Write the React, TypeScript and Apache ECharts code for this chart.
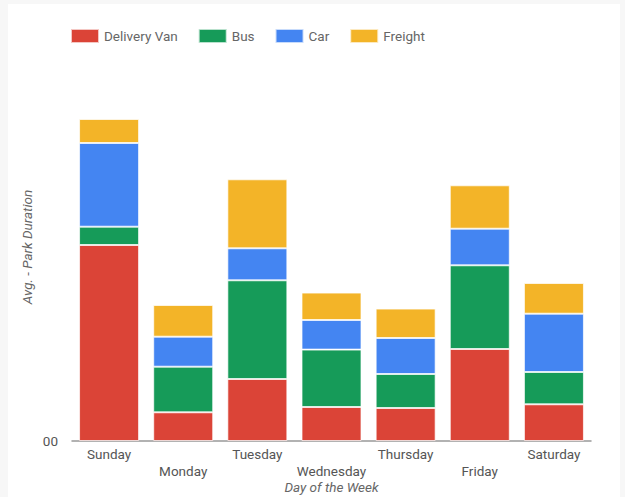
import React, { useEffect, useRef } from "react";
import * as echarts from "echarts";

const days = ["Sunday", "Monday", "Tuesday", "Wednesday", "Thursday", "Friday", "Saturday"];
const seriesNames = ["Delivery Van", "Bus", "Car", "Freight"];
const deliveryVan = [196, 28.7, 62, 34, 33, 92, 36.7];
const bus = [18.3, 45.6, 98.7, 57.4, 34, 83.7, 32.3];
const car = [83.7, 30, 32, 29.6, 36, 36.6, 58.3];
const freight = [24, 31.7, 69, 27.4, 29.4, 43.4, 30.7];
const colors = ["#DB4437", "#169B59", "#4485F2", "#F3B428"];
const yMax = 388;

export default function App() {
  const ref = useRef<HTMLDivElement>(null);
  useEffect(() => {
    document.body.style.margin = "0";
    const chart = echarts.init(ref.current!, null, { renderer: "svg" });
    const dataSets = [deliveryVan, bus, car, freight];
    chart.setOption({
      animation: false,
      backgroundColor: "#f7f7f7",
      textStyle: { fontFamily: "Roboto" },
      graphic: [
        { type: "rect", left: 8, top: 4, shape: { width: 612, height: 493 }, style: { fill: "#ffffff" }, z: -10 },
      ],
      legend: {
        left: 65,
        top: 23,
        itemWidth: 28,
        itemHeight: 14,
        itemGap: 20,
        icon: "rect",
        textStyle: { fontFamily: "Roboto", fontSize: 13.5, color: "#666" },
        data: seriesNames,
      },
      grid: { left: 72, right: 34, top: 53, bottom: 56, outerBoundsMode: "none", containLabel: false },
      xAxis: {
        type: "category",
        data: days,
        name: "Day of the Week",
        nameLocation: "middle",
        nameGap: 38,
        nameMoveOverlap: false,
        nameTextStyle: { fontFamily: "Roboto", fontSize: 13.5, lineHeight: 15, fontStyle: "italic", color: "#666" },
        axisLine: { lineStyle: { color: "#999", width: 1.5 } },
        axisTick: { show: false },
        axisLabel: {
          interval: 0,
          margin: 4,
          fontFamily: "Roboto",
          fontSize: 13.5,
          lineHeight: 17,
          color: "#555",
          formatter: (v: string, i: number) => (i % 2 ? "\n" + v : v),
        },
      },
      yAxis: {
        type: "value",
        min: 0,
        max: yMax,
        interval: yMax,
        name: "Avg. - Park Duration",
        nameLocation: "middle",
        nameGap: 38,
        nameMoveOverlap: false,
        nameRotate: 90,
        nameTextStyle: { fontFamily: "Roboto", fontSize: 13.5, fontStyle: "italic", color: "#666" },
        axisLine: { show: false },
        axisTick: { show: false },
        splitLine: { show: false },
        axisLabel: {
          margin: 14,
          fontFamily: "Roboto",
          fontSize: 13.5,
          color: "#555",
          formatter: (v: number) => (v === 0 ? "00" : ""),
        },
      },
      series: seriesNames.map((name, k) => ({
        name,
        type: "bar",
        stack: "total",
        barWidth: 60,
        data: dataSets[k],
        itemStyle: { color: colors[k], borderColor: "rgba(255,255,255,0.7)", borderWidth: 1 },
      })),
    });
    return () => chart.dispose();
  }, []);
  return <div ref={ref} style={{ width: 625, height: 497 }} />;
}
